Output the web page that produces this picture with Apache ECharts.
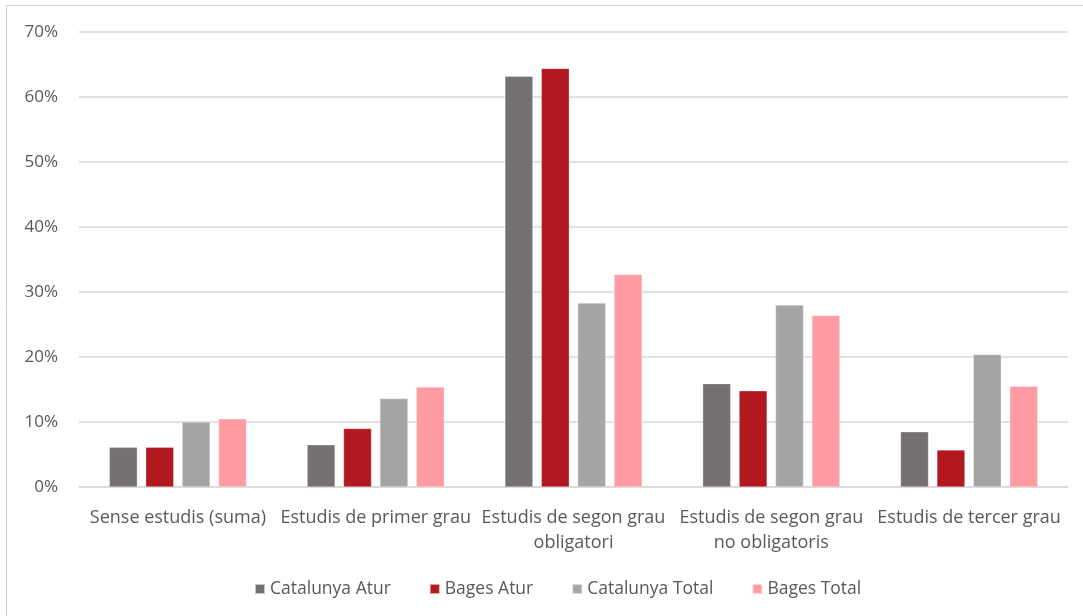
<!DOCTYPE html>
<html>
<head>
<meta charset="utf-8">
<script src="https://cdn.jsdelivr.net/npm/echarts@6/dist/echarts.min.js"></script>
<style>
html,body{margin:0;padding:0;background:#fff;}
#chart{width:1083px;height:616px;}
</style>
</head>
<body>
<div id="chart"></div>
<script>
const categories = ["Sense estudis (suma)", "Estudis de primer grau", "Estudis de segon grau\nobligatori", "Estudis de segon grau\nno obligatoris", "Estudis de tercer grau"];
const seriesNames = ["Catalunya Atur", "Bages Atur", "Catalunya Total", "Bages Total"];
const catalunyaAtur = [6.1, 6.5, 63.2, 15.9, 8.5];
const bagesAtur = [6.1, 9.0, 64.4, 14.8, 5.7];
const catalunyaTotal = [10.0, 13.6, 28.3, 28.0, 20.4];
const bagesTotal = [10.5, 15.4, 32.7, 26.4, 15.5];
const colors = ["#767171", "#B11820", "#A5A5A5", "#FF9BA3"];

const font = "'Open Sans', 'Liberation Sans', sans-serif";
const chart = echarts.init(document.getElementById('chart'));
const dataSets = [catalunyaAtur, bagesAtur, catalunyaTotal, bagesTotal];
chart.setOption({
  animation: false,
  color: colors,
  graphic: [{
    type: 'rect',
    shape: {x: 6.5, y: 5.5, width: 1090, height: 620},
    style: {fill: 'none', stroke: '#D0D0D0', lineWidth: 1},
    silent: true
  }],
  grid: {left: 79, right: 15, top: 32, bottom: 129},
  legend: {
    bottom: 13,
    left: 249,
    itemWidth: 10,
    itemHeight: 10,
    itemGap: 38,
    icon: 'rect',
    textStyle: {fontFamily: font, fontSize: 17.5, color: '#595959'},
    data: seriesNames
  },
  xAxis: {
    type: 'category',
    data: categories,
    axisLine: {lineStyle: {color: '#D9D9D9', width: 1.5}},
    axisTick: {show: false},
    axisLabel: {fontFamily: font, fontSize: 18, color: '#595959', margin: 18, lineHeight: 25, interval: 0}
  },
  yAxis: {
    type: 'value',
    min: 0, max: 70, interval: 10,
    axisLine: {show: false},
    axisTick: {show: false},
    splitLine: {lineStyle: {color: '#D9D9D9', width: 1.5}},
    axisLabel: {fontFamily: font, fontSize: 17, color: '#595959', margin: 21, formatter: v => v + '%'}
  },
  series: dataSets.map((d, i) => ({
    name: seriesNames[i],
    type: 'bar',
    data: d,
    barWidth: 28,
    barGap: '30%',
    itemStyle: {color: colors[i], borderColor: 'rgba(255,255,255,0.6)', borderWidth: 0.5}
  }))
});
</script>
</body>
</html>
